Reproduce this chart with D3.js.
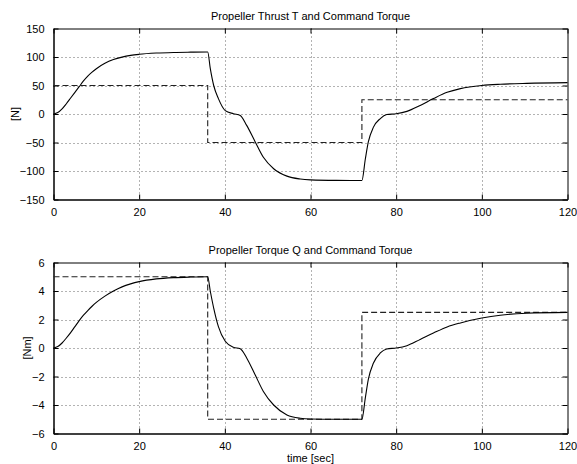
<!DOCTYPE html>
<html>
<head>
<meta charset="utf-8">
<script src="https://cdn.jsdelivr.net/npm/d3@7"></script>
<style>
  body { margin: 0; background: #fff; }
  svg text { font-family: "Liberation Sans", Arial, sans-serif; }
</style>
</head>
<body>
<script>
// time samples
var thrustTime = [0, 1, 2, 3, 4, 5, 6, 7, 8, 9, 10, 12, 14, 16, 18, 20, 24, 28, 32, 36,
                  36.6, 37.4, 38.5, 40.1, 42, 43.6, 45.1, 47.1, 49, 51.4, 54.5, 57.6, 60, 66, 72,
                  72.8, 73.5, 74.7, 76.3, 77.8, 80, 82.5, 85.6, 88.7, 91.9, 95, 100, 104.3, 110.5, 120];
var thrustValue = [0, 2.5, 9, 18, 28, 38, 48, 58, 66.5, 73.5, 79.5, 89, 95.5, 99.8, 102.8, 104.7, 106.9, 108, 108.5, 108.8,
                   80, 50, 27, 6, 0.5, -2.5, -20, -49, -76, -96, -109, -114, -115.5, -116.5, -116.7,
                   -79, -49, -23, -8, -1, 0.5, 4.6, 15, 27, 38, 44.5, 50, 52.2, 53.8, 55];

var torqueTime = thrustTime;
var torqueValue = [0, 0.1, 0.35, 0.7, 1.08, 1.5, 1.92, 2.3, 2.63, 2.93, 3.2, 3.64, 4.0, 4.29, 4.5, 4.66, 4.85, 4.94, 4.98, 5.0,
                   4.0, 2.8, 1.5, 0.47, 0.05, -0.05, -0.7, -1.9, -3.05, -4.0, -4.7, -4.93, -4.98, -5.0, -5.0,
                   -3.5, -2.2, -1.05, -0.35, -0.07, 0, 0.16, 0.6, 1.05, 1.48, 1.76, 2.1, 2.3, 2.44, 2.5];

// command torque steps
var cmdTime = [0, 36, 36, 72, 72, 120];
var cmdThrust = [50, 50, -50, -50, 25, 25];
var cmdTorque = [5, 5, -5, -5, 2.5, 2.5];

var xTicks = [0, 20, 40, 60, 80, 100, 120];
var thrustTicks = [-150, -100, -50, 0, 50, 100, 150];
var torqueTicks = [-6, -4, -2, 0, 2, 4, 6];

var width = 577, height = 464;
var svg = d3.select("body").append("svg")
    .attr("width", width)
    .attr("height", height);

var left = 53.5, right = 567.5;

var xScale = d3.scaleLinear().domain([0, 120]).range([left, right]);

drawPanel({top: 28.5, bottom: 199.5, domain: [-150, 150], ticks: thrustTicks,
           title: "Propeller Thrust T and Command Torque", ylabel: "[N]", ylabelX: 15,
           time: thrustTime, values: thrustValue, cmd: cmdThrust, xlabel: null});
drawPanel({top: 262.5, bottom: 433.5, domain: [-6, 6], ticks: torqueTicks,
           title: "Propeller Torque Q and Command Torque", ylabel: "[Nm]", ylabelX: 27,
           time: torqueTime, values: torqueValue, cmd: cmdTorque, xlabel: "time [sec]"});

function drawPanel(p) {
    var yScale = d3.scaleLinear().domain(p.domain).range([p.bottom, p.top]);
    var g = svg.append("g");
    var fmt = d3.format("");

    // dotted grid
    g.selectAll(".vgrid").data(xTicks.slice(1, -1)).enter().append("line")
        .attr("x1", function (d) { return Math.round(xScale(d)) + 0.5; })
        .attr("x2", function (d) { return Math.round(xScale(d)) + 0.5; })
        .attr("y1", p.top).attr("y2", p.bottom)
        .attr("stroke", "#666").attr("stroke-width", 1).attr("stroke-dasharray", "1,3");
    g.selectAll(".hgrid").data(p.ticks.slice(1, -1)).enter().append("line")
        .attr("x1", left).attr("x2", right)
        .attr("y1", function (d) { return Math.round(yScale(d)) + 0.5; })
        .attr("y2", function (d) { return Math.round(yScale(d)) + 0.5; })
        .attr("stroke", "#666").attr("stroke-width", 1).attr("stroke-dasharray", "1,3");

    // axes with inward ticks on all four sides
    var bottomAxis = d3.axisBottom(xScale).tickValues(xTicks).tickSizeInner(-5).tickSizeOuter(0).tickPadding(9).tickFormat(fmt);
    var topAxis = d3.axisTop(xScale).tickValues(xTicks).tickSizeInner(-5).tickSizeOuter(0).tickFormat("");
    var leftAxis = d3.axisLeft(yScale).tickValues(p.ticks).tickSizeInner(-5).tickSizeOuter(0).tickPadding(9).tickFormat(fmt);
    var rightAxis = d3.axisRight(yScale).tickValues(p.ticks).tickSizeInner(-5).tickSizeOuter(0).tickFormat("");

    [[bottomAxis, "translate(0," + p.bottom + ")", 1.5], [topAxis, "translate(0," + p.top + ")", 1],
     [leftAxis, "translate(" + left + ",0)", 1.5], [rightAxis, "translate(" + right + ",0)", 1]].forEach(function (a) {
        var ax = g.append("g").attr("transform", a[1]).call(a[0]);
        ax.select(".domain").attr("stroke", "#000").attr("stroke-width", a[2]);
        ax.selectAll(".tick line").attr("stroke", "#000");
        ax.selectAll("text").attr("font-size", 11).attr("fill", "#000");
    });

    // command (dashed)
    var cmdLine = d3.line()
        .x(function (d, i) { return xScale(cmdTime[i]); })
        .y(function (d) { return yScale(d); });
    g.append("path").attr("d", cmdLine(p.cmd))
        .attr("fill", "none").attr("stroke", "#222").attr("stroke-width", 1.1)
        .attr("stroke-dasharray", "6,3");

    // response (solid)
    var line = d3.line()
        .x(function (d, i) { return xScale(p.time[i]); })
        .y(function (d) { return yScale(d); })
        .curve(d3.curveMonotoneX);
    g.append("path").attr("d", line(p.values))
        .attr("fill", "none").attr("stroke", "#000").attr("stroke-width", 1.1);

    g.append("text").attr("x", (left + right) / 2).attr("y", p.top - 9)
        .attr("text-anchor", "middle").attr("font-size", 11).text(p.title);

    g.append("text")
        .attr("transform", "translate(" + p.ylabelX + "," + ((p.top + p.bottom) / 2) + ") rotate(-90)")
        .attr("text-anchor", "middle").attr("dy", "0.35em").attr("font-size", 11).text(p.ylabel);

    if (p.xlabel) {
        g.append("text").attr("x", (left + right) / 2).attr("y", p.bottom + 28)
            .attr("text-anchor", "middle").attr("font-size", 11).text(p.xlabel);
    }
}
</script>
</body>
</html>
